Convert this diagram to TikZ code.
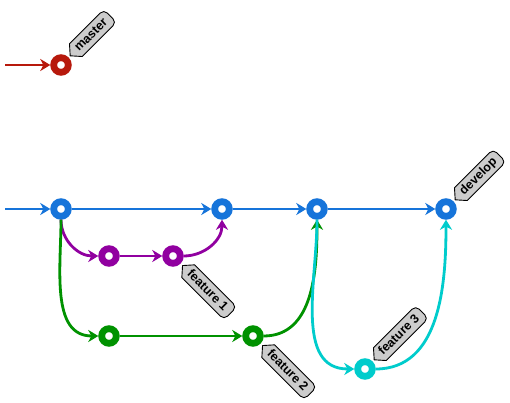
\documentclass[tikz,border=0pt]{standalone}
\usepackage{fontspec}
\setsansfont{Liberation Sans}
\usetikzlibrary{arrows.meta,calc}
\definecolor{gred}{RGB}{183,25,12}
\definecolor{gblue}{RGB}{22,116,218}
\definecolor{gpurple}{RGB}{145,0,160}
\definecolor{ggreen}{RGB}{0,146,0}
\definecolor{gcyan}{RGB}{0,204,204}
\definecolor{tagfill}{RGB}{204,204,204}
\newcommand\gtagfont{\sffamily\bfseries\fontsize{12.5}{14}\selectfont}
% #1 name, #2 tip point, #3 angle, #4 text width (bp), #5 text
\newcommand\gittag[5]{%
  \begin{scope}[shift={(#2)},rotate=#3]
    \draw[tagline] (0,0) -- (8,9) -- ({#4+10.5},9)
      arc[start angle=90,end angle=0,radius=5] -- ({#4+15.5},-4)
      arc[start angle=0,end angle=-90,radius=5] -- (8,-9) -- cycle;
    \node[tagtext,anchor=west] (#1) at (8,0) {#5};
  \end{scope}}
\tikzset{
  commit/.style={circle, draw=#1, fill=white, line width=6.8bp, minimum size=14.6bp, inner sep=0pt},
  br/.style={draw=#1, line width=2.8bp, -{Stealth[length=10bp,width=12bp,inset=3bp]}},
  tagline/.style={draw=black, fill=tagfill, line width=0.9bp, line join=round},
  tagtext/.style={font=\gtagfont, inner sep=1pt, transform shape, text height=0.72em, text depth=0pt},
}
\begin{document}
\begin{tikzpicture}[x=1bp,y=1bp]
  \useasboundingbox[fill=white] (0,0) rectangle (510,402);
  % commits
  \node[commit=gred] (m) at (61,337) {};
  \coordinate (ms) at (5,337);
  \coordinate (ds) at (5,193);
  \node[commit=gblue] (d1) at (61,193) {};
  \node[commit=gblue] (d2) at (222,193) {};
  \node[commit=gblue] (d3) at (317,193) {};
  \node[commit=gblue] (d4) at (446,193) {};
  \node[commit=gpurple] (f1a) at (109,146) {};
  \node[commit=gpurple] (f1b) at (173,146) {};
  \node[commit=ggreen] (f2a) at (109,66) {};
  \node[commit=ggreen] (f2b) at (253,66) {};
  \node[commit=gcyan] (f3) at (365,33) {};
  % connectors
  \draw[br=gred] (ms) -- (m);
  \draw[br=gblue] (ds) -- (d1);
  \draw[br=gblue] (d1) -- (d2);
  \draw[br=gblue] (d2) -- (d3);
  \draw[br=gblue] (d3) -- (d4);
  \draw[br=gpurple] (d1) to[out=-90,in=180] (f1a);
  \draw[br=gpurple] (f1a) -- (f1b);
  \draw[br=gpurple] (f1b) to[out=0,in=-90] (d2);
  \draw[br=ggreen] (d1) to[out=-90,in=180] (f2a);
  \draw[br=ggreen] (f2a) -- (f2b);
  \draw[br=ggreen] (f2b) to[out=0,in=-90] (d3);
  \draw[br=gcyan] (d3) to[out=-90,in=180] (f3);
  \draw[br=gcyan] (f3) to[out=0,in=-90] (d4);
  % tags
  \gittag{tm}{$(m)+(45:13)$}{45}{41}{master}
  \gittag{td}{$(d4)+(45:13)$}{45}{47.2}{develop}
  \gittag{tf1}{$(f1b)+(-45:13.5)$}{-45}{52.1}{feature 1}
  \gittag{tf2}{$(f2b)+(-45:13.5)$}{-45}{52.1}{feature 2}
  \gittag{tf3}{$(f3)+(45:13)$}{45}{52.1}{feature 3}
\end{tikzpicture}
\end{document}
